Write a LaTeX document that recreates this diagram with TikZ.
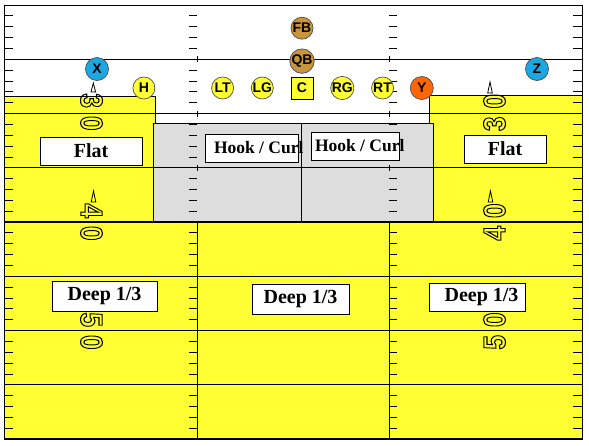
\documentclass[tikz,border=0pt]{standalone}
\usepackage{fontspec}
\setmainfont{Liberation Serif}
\newfontfamily\playerfont{Liberation Sans}
\usetikzlibrary{positioning}
\definecolor{fieldyellow}{RGB}{255,255,51}
\definecolor{zonegray}{RGB}{221,221,221}
\definecolor{wrblue}{RGB}{25,168,228}
\definecolor{teorange}{RGB}{255,102,0}
\definecolor{backbrown}{RGB}{200,148,60}
\newcommand{\outlined}[1]{\special{pdf:literal direct 1 Tr 1.1 w 0 G}#1\special{pdf:literal direct 0 Tr}}

\begin{document}
\begin{tikzpicture}[x=1pt, y=-1pt]
      \tikzstyle{zone}=[draw=black, line width=0.8pt]
      \tikzstyle{yardline}=[black, line width=0.8pt]
      \tikzstyle{goalline}=[black, line width=2pt]
      \tikzstyle{tick}=[black, line width=0.8pt]
      \tikzstyle{pointer}=[draw=black, line width=0.8pt]
      \tikzstyle{yardnum}=[inner sep=0pt, xscale=0.85, font=\playerfont\bfseries\fontsize{31}{31}\selectfont]
      \tikzstyle{zonelabel}=[rectangle, draw=black, fill=white, line width=0.8pt, inner sep=0pt, font=\bfseries\fontsize{20}{24}\selectfont]
      \tikzstyle{hooklabel}=[zonelabel, font=\bfseries\fontsize{17.5}{20}\selectfont]
      \tikzstyle{player}=[circle, draw=black!70, line width=0.7pt, minimum size=22pt, inner sep=0pt, fill=fieldyellow, font=\playerfont\bfseries\fontsize{14}{16}\selectfont]

      \useasboundingbox (0,0) rectangle (589,445);

      % zones
      \draw[zone, fill=fieldyellow] (4,96) rectangle (155,221);
      \draw[zone, fill=fieldyellow] (429,95) rectangle (582,221);
      \draw[zone, fill=zonegray] (153,123) rectangle (301,221);
      \draw[zone, fill=zonegray] (301,123) rectangle (433,221);
      \draw[zone, fill=fieldyellow] (4,221) rectangle (197,439);
      \draw[zone, fill=fieldyellow] (197,221) rectangle (389,439);
      \draw[zone, fill=fieldyellow] (389,221) rectangle (582,439);

      % yard lines and ticks
      \foreach \l in {1,2,3,5,6,7} {
        \draw[yardline] (4,5+54.25*\l) -- (582,5+54.25*\l);
      }
      \draw[goalline] (4,222) -- (582,222);
      \draw[yardline] (4,5) rectangle (582,439);
      \draw[goalline] (4,439) -- (582,439);
      \foreach \l in {0,...,7} {
        \foreach \j in {1,...,4} {
          \pgfmathsetmacro{\yy}{5+54.25*\l+10.85*\j}
          \draw[tick] (4,\yy) -- (13,\yy);
          \draw[tick] (573,\yy) -- (582,\yy);
          \draw[tick] (189,\yy) -- (197,\yy);
          \draw[tick] (389,\yy) -- (397,\yy);
        }
      }
      \foreach \l in {1,2,3} {
        \draw[tick] (197,2+54.25*\l) -- (197,8+54.25*\l);
        \draw[tick] (389,2+54.25*\l) -- (389,8+54.25*\l);
      }

      % yard numbers
      \node[rotate=-90, yardnum] (num30l) at (91.5,112) {\outlined{3\kern9.3pt0}};
      \node[rotate=-90, yardnum] (num40l) at (91.5,222) {\outlined{4\kern9.3pt0}};
      \node[rotate=-90, yardnum] (num50l) at (91.5,331) {\outlined{5\kern9.3pt0}};
      \node[rotate=90, yardnum] (num30r) at (494.5,112.5) {\outlined{3\kern9.3pt0}};
      \node[rotate=90, yardnum] (num40r) at (494.5,222) {\outlined{4\kern9.3pt0}};
      \node[rotate=90, yardnum] (num50r) at (494.5,331) {\outlined{5\kern9.3pt0}};
      \draw[pointer] (93.3,83) -- (91,92) -- (95.6,92) -- cycle;
      \draw[pointer] (93.5,191) -- (91.2,202) -- (95.8,202) -- cycle;
      \draw[pointer] (490,82) -- (487.7,93) -- (492.3,93) -- cycle;
      \draw[pointer] (490.5,191) -- (488.2,202) -- (492.8,202) -- cycle;

      % zone labels
      \node[zonelabel, minimum width=102pt, minimum height=28pt] (flatl) at (91,151) {Flat};
      \node[zonelabel, minimum width=82pt, minimum height=28pt] (flatr) at (505,149) {Flat};
      \node[hooklabel, minimum width=93pt, minimum height=28pt] (hookl) at (251.5,148) {\makebox[93pt][l]{\hspace{9pt}Hook / Curl}};
      \node[hooklabel, minimum width=88pt, minimum height=28pt] (hookr) at (355,146) {\makebox[88pt][l]{\hspace{4pt}Hook / Curl}};
      \node[zonelabel, minimum width=105pt, minimum height=30pt] (deepl) at (104.5,296) {Deep 1/3};
      \node[zonelabel, minimum width=97pt, minimum height=30pt] (deepm) at (300.5,299) {Deep 1/3};
      \node[zonelabel, minimum width=96pt, minimum height=28pt] (deepr) at (477,297) {\makebox[96pt]{\hspace{9pt}Deep 1/3}};

      % offense
      \node[player, rectangle, draw=black] (c) at (302,88) {C};
      \node[player] (lg) [left=17pt of c] {LG};
      \node[player] (lt) [left=17pt of lg] {LT};
      \node[player] (h) [left=56pt of lt] {H};
      \node[player] (rg) [right=17pt of c] {RG};
      \node[player] (rt) [right=17pt of rg] {RT};
      \node[player, fill=teorange, minimum size=23pt] (y) [right=16pt of rt] {Y};
      \node[player, fill=backbrown] (qb) [above=3pt of c] {QB};
      \node[player, fill=backbrown] (fb) [above=9pt of qb] {FB};
      \node[player, fill=wrblue, minimum size=23pt] (x) at (97,69) {X};
      \node[player, fill=wrblue, minimum size=23pt] (z) at (537,69) {Z};
\end{tikzpicture}
\end{document}
